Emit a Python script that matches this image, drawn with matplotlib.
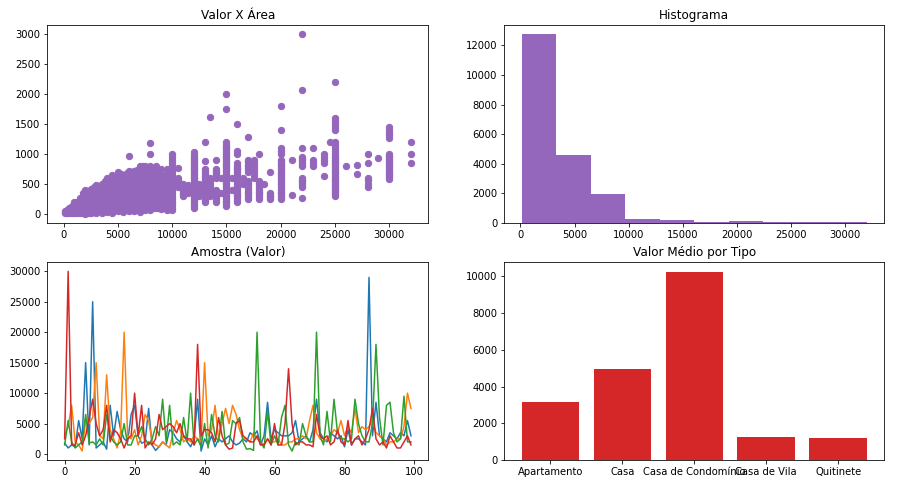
import numpy as np
import matplotlib
matplotlib.use('Agg')
import matplotlib.pyplot as plt


# ------------------------------------------------------------------------
#### Valor X Area (scatter), one column of areas per valor
scatter_valor = [100, 300, 500, 800, 1000, 1200, 1500, 1800, 2000, 2300, 2500, 2800,
                 3000, 3300, 3500, 3800, 4000, 4300, 4500, 4800, 5000, 5300, 5500, 5800,
                 6000, 6300, 6500, 6800, 7000, 7300, 7500, 7800, 8000, 8300, 8500, 8800,
                 9000, 9300, 9500, 9800, 10000, 10500, 11000, 11500, 12000, 12500, 13000,
                 13500, 14000, 14500, 15000, 15500, 16000, 16500, 17000, 17500, 18000,
                 18500, 19000, 20000, 21000, 22000, 23000, 24000, 24500, 25000, 26000,
                 27000, 28000, 29000, 30000, 32000]
scatter_areas = [
    [10, 30, 50],
    [20, 40, 60],
    [20, 40, 60, 80, 100],
    [15, 40, 70, 100, 130],
    [20, 50, 80, 110, 150, 190],
    [10, 40, 80, 120, 160, 200],
    [10, 40, 80, 120, 170, 220, 260],
    [20, 60, 100, 150, 200, 250, 300, 340],
    [0, 40, 90, 140, 190, 240, 300, 360, 400],
    [20, 60, 110, 160, 210, 270, 330, 380],
    [10, 50, 100, 150, 200, 260, 320, 380, 420],
    [30, 80, 130, 190, 250, 310, 370, 450],
    [20, 70, 120, 180, 240, 300, 360, 420, 480],
    [40, 90, 150, 210, 270, 330, 400, 460],
    [10, 60, 120, 180, 240, 300, 360, 430, 500],
    [50, 110, 170, 230, 290, 350, 420, 480, 540],
    [30, 80, 140, 200, 260, 320, 380, 450, 520, 600],
    [50, 110, 170, 240, 310, 380, 450, 520, 580],
    [20, 80, 140, 200, 260, 330, 400, 470, 550, 650],
    [60, 120, 190, 260, 330, 400, 480, 560, 620],
    [40, 100, 160, 230, 300, 370, 440, 520, 600, 700],
    [70, 140, 210, 280, 350, 430, 520, 600, 660],
    [30, 90, 150, 220, 290, 360, 430, 510, 580, 640],
    [60, 130, 200, 270, 350, 430, 520, 600, 680],
    [40, 100, 170, 240, 310, 380, 450, 530, 620, 720, 970],
    [80, 150, 220, 300, 380, 460, 550, 620, 700],
    [50, 110, 180, 250, 320, 400, 480, 560, 640, 720],
    [90, 160, 240, 320, 400, 480, 570, 650, 730],
    [30, 100, 170, 240, 320, 400, 480, 560, 650, 750, 800],
    [80, 160, 240, 320, 400, 480, 560, 640, 720, 800],
    [60, 130, 200, 280, 360, 440, 520, 600, 700, 800],
    [100, 180, 260, 340, 420, 500, 580, 650, 720],
    [70, 140, 220, 300, 380, 460, 540, 620, 700, 800, 1000, 1180],
    [100, 180, 260, 340, 420, 500, 580, 660, 740],
    [90, 170, 250, 330, 410, 490, 570, 650, 730, 800],
    [100, 180, 260, 340, 420, 500, 580, 660, 720],
    [80, 160, 240, 320, 400, 480, 560, 640, 750],
    [90, 170, 250, 330, 410, 490, 570, 650],
    [70, 150, 230, 310, 390, 470, 550, 650, 750],
    [80, 160, 240, 320, 400, 480, 560],
    [60, 100, 140, 180, 220, 260, 300, 340, 380, 420, 460, 500, 540, 580, 620, 660,
     700, 740, 800, 850, 900, 950, 1000],
    [450, 490, 520, 560, 600, 770],
    [300, 330, 350, 380, 400, 430, 450, 480, 500],
    [350, 390, 420, 450, 480],
    [100, 130, 160, 200, 230, 260, 290, 320, 350, 380, 410, 440, 470, 500, 530, 560,
     590, 620, 650, 680, 710, 740, 770, 800, 830, 860, 890, 920, 950, 980, 1030],
    [300, 350, 400, 450, 500],
    [200, 230, 260, 290, 320, 350, 380, 410, 440, 470, 500, 530, 560, 590, 620, 650,
     680, 710, 750, 880, 1200],
    [300, 350, 400, 450, 500, 550, 600, 1620],
    [200, 230, 260, 290, 320, 360, 400, 600, 630, 660, 690, 720, 750, 900],
    [350, 600],
    [130, 160, 190, 220, 250, 280, 310, 340, 370, 400, 430, 460, 490, 520, 550, 580,
     610, 640, 670, 700, 730, 760, 790, 820, 850, 880, 910, 940, 970, 1000, 1030,
     1060, 1090, 1120, 1150, 1200, 1750, 2000],
    [400, 600],
    [200, 230, 260, 290, 320, 350, 380, 410, 440, 470, 500, 530, 560, 590, 620, 650,
     680, 710, 740, 770, 800, 850, 1000, 1050, 1500],
    [500, 600],
    [250, 280, 310, 340, 370, 400, 430, 460, 490, 520, 550, 700, 730, 760, 790, 820,
     860, 900, 1280],
    [600, 650, 700, 750, 800, 850, 900],
    [250, 280, 310, 340, 370, 400, 430, 460, 490, 520, 550, 1000],
    [500],
    [250, 280, 300, 330, 350, 700],
    [250, 280, 310, 340, 370, 400, 430, 460, 490, 520, 550, 580, 610, 640, 670, 700,
     730, 760, 790, 820, 850, 880, 900, 1000, 1050, 1100, 1400, 1800],
    [320, 900],
    [270, 450, 480, 510, 540, 570, 600, 800, 830, 860, 890, 920, 950, 1100, 2060, 3000],
    [800, 850, 900, 1100],
    [630, 850, 900, 950, 1000],
    [1200],
    [300, 330, 360, 390, 420, 450, 480, 510, 540, 570, 600, 630, 660, 690, 720, 750,
     780, 810, 840, 870, 900, 930, 960, 1000, 1050, 1100, 1150, 1200, 1400, 1450,
     1500, 1550, 1600, 2200],
    [800],
    [660, 820],
    [440, 500, 560, 600, 850, 1000],
    [930],
    [580, 610, 640, 670, 700, 730, 760, 790, 820, 850, 880, 910, 940, 970, 1000,
     1270, 1310, 1350, 1400, 1450],
    [850, 1000, 1200],
]

#### Histograma (Valor), 10 bins
valor_min = 100
valor_max = 32000
hist_counts = [12750, 4570, 1950, 260, 190, 60, 110, 40, 40, 50]

#### Amostra (Valor), 4 samples of 100
amostra_1 = [1800, 1000, 1500, 1200, 5500, 2500, 15000, 1500, 25000, 1000,
             1500, 2000, 800, 8000, 3000, 7000, 4000, 2500, 2000, 6500,
             8000, 3000, 1800, 2000, 7500, 1500, 600, 1200, 2000, 1500,
             4000, 3500, 2500, 2000, 3000, 2000, 1200, 2500, 9000, 500,
             2500, 1500, 3000, 1200, 2500, 2000, 2500, 3000, 2000, 1500,
             1800, 2500, 2000, 3500, 3000, 3800, 1500, 3000, 8500, 2500,
             4000, 3500, 3000, 3000, 3000, 3500, 5500, 2000, 2500, 3000,
             2000, 4000, 9000, 3500, 2500, 2000, 3500, 3000, 2500, 3000,
             1200, 4000, 1500, 2500, 2500, 2000, 1500, 29000, 3000, 8500,
             3000, 2500, 2000, 3500, 3000, 2500, 3500, 3000, 5500, 3000]
amostra_2 = [3000, 4500, 8000, 2000, 1500, 500, 5500, 5000, 6000, 15000,
             3000, 2500, 13000, 4000, 2500, 1000, 3500, 20000, 3000, 2500,
             4000, 1500, 3000, 6500, 5500, 2000, 1500, 1200, 2000, 1500,
             1000, 3500, 5500, 4000, 2000, 2500, 2000, 3000, 2500, 2000,
             15000, 3000, 4000, 8000, 2500, 5000, 7500, 5000, 8000, 6500,
             4000, 2500, 2500, 2000, 3500, 2500, 2000, 1500, 2500, 2000,
             2000, 2500, 1500, 1500, 2000, 2000, 2500, 2500, 3000, 2500,
             5500, 8000, 3500, 2500, 2000, 2500, 3000, 4000, 3500, 5500,
             3000, 4500, 3500, 7500, 3500, 4500, 4000, 4500, 5500, 3500,
             3000, 2500, 1500, 2000, 2000, 2500, 2500, 4500, 10000, 7500]
amostra_3 = [1500, 5500, 2000, 1000, 1500, 2000, 6500, 1800, 2000, 1500,
             2500, 1500, 6500, 3000, 2000, 1500, 2000, 5000, 1500, 1500,
             3000, 3000, 4500, 2500, 1500, 2500, 4500, 3000, 9000, 2000,
             8000, 1500, 2000, 1500, 6000, 2000, 10000, 1500, 2500, 1200,
             5000, 1000, 6500, 3000, 2000, 7000, 1500, 1800, 5500, 5000,
             6000, 2000, 800, 900, 600, 20000, 2000, 1000, 7000, 1500,
             3000, 1500, 6000, 8000, 1500, 500, 2000, 1500, 5000, 3000,
             2000, 2000, 20000, 3000, 1500, 7000, 2000, 9000, 3500, 2500,
             2500, 2000, 2500, 9000, 5000, 3000, 2000, 2000, 5000, 18000,
             6000, 1500, 8000, 8500, 3500, 2000, 2500, 9500, 2000, 2000]
amostra_4 = [2500, 30000, 1500, 1500, 3500, 1500, 3000, 6000, 9000, 5000,
             3000, 4000, 8000, 2000, 4000, 3500, 2500, 1000, 2500, 3000,
             10000, 3000, 8000, 1000, 2000, 1500, 2500, 6500, 4000, 4500,
             5000, 4500, 3500, 5000, 3000, 2500, 2500, 1500, 18000, 3000,
             4000, 4000, 3500, 2000, 6000, 3000, 1500, 800, 1000, 5000,
             5500, 3000, 2500, 2000, 2000, 3000, 1500, 1500, 2500, 1500,
             5000, 1500, 1500, 5000, 14000, 5000, 1500, 2000, 2000, 1500,
             1500, 1200, 6500, 3000, 2500, 3000, 1500, 2000, 4000, 2000,
             1500, 5500, 1500, 2500, 3000, 1500, 2500, 4000, 7500, 2500,
             1500, 2000, 1000, 3000, 2000, 1000, 1000, 2000, 3000, 1500]

#### Valor medio por tipo
tipos = ['Apartamento', 'Casa', 'Casa de Condomínio', 'Casa de Vila', 'Quitinete']
valor_medio = [3150, 4960, 10250, 1255, 1200]


# ------------------------------------------------------------------------
fig = plt.figure(figsize=(907 / 72, 490 / 72), dpi=72)
ax1 = fig.add_axes([0.0522, 0.5455, 0.4200, 0.4035])
ax2 = fig.add_axes([0.5560, 0.5455, 0.4190, 0.4035])
ax3 = fig.add_axes([0.0522, 0.0612, 0.4200, 0.4035])
ax4 = fig.add_axes([0.5560, 0.0612, 0.4190, 0.4035])

pts_x = []
pts_y = []
for v, areas in zip(scatter_valor, scatter_areas):
    for a in areas:
        pts_x.append(v)
        pts_y.append(a)
ax1.scatter(pts_x, pts_y, color='C4', s=40)
ax1.set_title('Valor X Área')

hist_edges = np.linspace(valor_min, valor_max, len(hist_counts) + 1)
ax2.hist(hist_edges[:-1], bins=hist_edges, weights=hist_counts, color='C4')
ax2.set_title('Histograma')

for serie in [amostra_1, amostra_2, amostra_3, amostra_4]:
    ax3.plot(np.arange(len(serie)), serie)
ax3.set_title('Amostra (Valor)')

ax4.bar(tipos, valor_medio, color='C3')
ax4.set_title('Valor Médio por Tipo')

plt.savefig('out.png', dpi=72)
